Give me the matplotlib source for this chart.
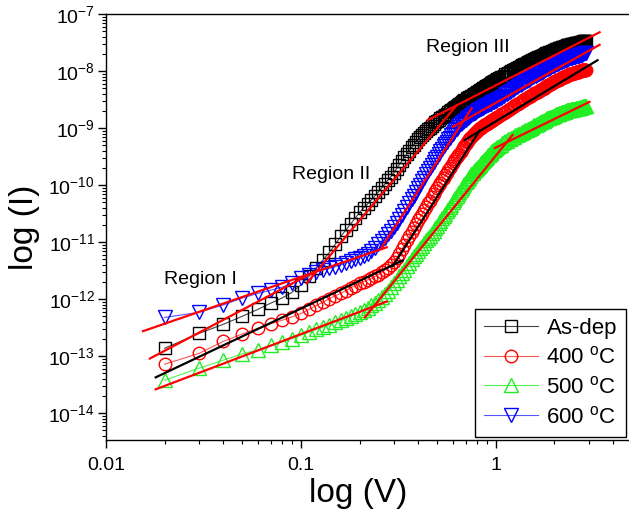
import numpy as np
import matplotlib
matplotlib.use("Agg")
import matplotlib.pyplot as plt
from matplotlib.ticker import FixedLocator, FuncFormatter, NullFormatter, LogFormatterSciNotation

plt.rcParams['font.family'] = ['Liberation Sans', 'DejaVu Sans']
plt.rcParams['mathtext.default'] = 'regular'

# applied voltage (V)
voltage = [0.02, 0.03, 0.04, 0.05, 0.06, 0.07, 0.08, 0.09, 0.10, 0.11,
           0.12, 0.13, 0.14, 0.15, 0.16, 0.17, 0.18, 0.19, 0.20,
           0.21, 0.22, 0.23, 0.24, 0.25, 0.26, 0.27, 0.28, 0.29, 0.30,
           0.31, 0.32, 0.33, 0.34, 0.35, 0.36, 0.37, 0.38, 0.39, 0.40,
           0.41, 0.42, 0.43, 0.44, 0.45, 0.46, 0.47, 0.48, 0.49, 0.50,
           0.51, 0.52, 0.53, 0.54, 0.55, 0.56, 0.57, 0.58, 0.59, 0.60,
           0.61, 0.62, 0.63, 0.64, 0.65, 0.66, 0.67, 0.68, 0.69, 0.70,
           0.71, 0.72, 0.73, 0.74, 0.75, 0.76, 0.77, 0.78, 0.79, 0.80,
           0.81, 0.82, 0.83, 0.84, 0.85, 0.86, 0.87, 0.88, 0.89, 0.90,
           0.91, 0.92, 0.93, 0.94, 0.95, 0.96, 0.97, 0.98, 0.99, 1.00,
           1.02, 1.04, 1.06, 1.08, 1.10, 1.12, 1.14, 1.16, 1.18, 1.20,
           1.22, 1.24, 1.26, 1.28, 1.30, 1.32, 1.34, 1.36, 1.38, 1.40,
           1.42, 1.44, 1.46, 1.48, 1.50, 1.52, 1.54, 1.56, 1.58, 1.60,
           1.62, 1.64, 1.66, 1.68, 1.70, 1.72, 1.74, 1.76, 1.78, 1.80,
           1.82, 1.84, 1.86, 1.88, 1.90, 1.92, 1.94, 1.96, 1.98, 2.00,
           2.02, 2.04, 2.06, 2.08, 2.10, 2.12, 2.14, 2.16, 2.18, 2.20,
           2.22, 2.24, 2.26, 2.28, 2.30, 2.32, 2.34, 2.36, 2.38, 2.40,
           2.42, 2.44, 2.46, 2.48, 2.50, 2.52, 2.54, 2.56, 2.58, 2.60,
           2.62, 2.64, 2.66, 2.68, 2.70, 2.72, 2.74, 2.76, 2.78, 2.80,
           2.82, 2.84, 2.86, 2.88, 2.90]

# log10 of current (A)
logI_asdep = [-12.86, -12.60, -12.44, -12.30, -12.18, -12.07, -11.98, -11.88, -11.75, -11.60,
              -11.45, -11.31, -11.18, -11.04, -10.90, -10.79, -10.68, -10.58, -10.48,
              -10.40, -10.33, -10.26, -10.19, -10.12, -10.05, -9.98, -9.91, -9.85, -9.78,
              -9.71, -9.64, -9.57, -9.51, -9.45, -9.40, -9.34, -9.29, -9.24, -9.20,
              -9.16, -9.12, -9.08, -9.05, -9.02, -8.99, -8.96, -8.93, -8.90, -8.88,
              -8.85, -8.83, -8.81, -8.79, -8.77, -8.75, -8.72, -8.70, -8.68, -8.66,
              -8.64, -8.63, -8.61, -8.60, -8.58, -8.56, -8.54, -8.53, -8.51, -8.50,
              -8.48, -8.47, -8.46, -8.45, -8.43, -8.42, -8.41, -8.40, -8.38, -8.37,
              -8.36, -8.35, -8.34, -8.33, -8.31, -8.30, -8.29, -8.28, -8.27, -8.26,
              -8.25, -8.24, -8.23, -8.22, -8.21, -8.20, -8.19, -8.18, -8.17, -8.16,
              -8.14, -8.13, -8.11, -8.10, -8.08, -8.06, -8.05, -8.03, -8.02, -8.00,
              -7.99, -7.98, -7.96, -7.95, -7.94, -7.93, -7.92, -7.90, -7.89, -7.88,
              -7.87, -7.86, -7.85, -7.84, -7.83, -7.82, -7.81, -7.80, -7.79, -7.78,
              -7.77, -7.76, -7.76, -7.75, -7.74, -7.73, -7.72, -7.72, -7.71, -7.70,
              -7.69, -7.68, -7.68, -7.67, -7.66, -7.66, -7.65, -7.64, -7.64, -7.63,
              -7.63, -7.62, -7.61, -7.61, -7.60, -7.60, -7.59, -7.59, -7.58, -7.58,
              -7.57, -7.57, -7.57, -7.56, -7.56, -7.55, -7.55, -7.55, -7.54, -7.54,
              -7.54, -7.53, -7.53, -7.52, -7.52, -7.52, -7.52, -7.51, -7.51, -7.51,
              -7.50, -7.50, -7.50, -7.50, -7.50, -7.49, -7.49, -7.49, -7.49, -7.49,
              -7.48, -7.48, -7.48, -7.48, -7.48]
logI_400 = [-13.14, -12.95, -12.74, -12.61, -12.51, -12.43, -12.37, -12.31, -12.25, -12.18,
            -12.11, -12.05, -11.99, -11.94, -11.90, -11.85, -11.80, -11.76, -11.72,
            -11.69, -11.66, -11.63, -11.60, -11.57, -11.53, -11.49, -11.45, -11.40, -11.35,
            -11.28, -11.20, -11.12, -11.05, -10.97, -10.90, -10.83, -10.76, -10.69, -10.62,
            -10.56, -10.50, -10.44, -10.38, -10.32, -10.27, -10.21, -10.16, -10.10, -10.05,
            -10.00, -9.96, -9.91, -9.87, -9.82, -9.78, -9.74, -9.70, -9.66, -9.62,
            -9.58, -9.55, -9.51, -9.48, -9.45, -9.42, -9.38, -9.35, -9.31, -9.28,
            -9.25, -9.23, -9.20, -9.18, -9.15, -9.13, -9.11, -9.09, -9.07, -9.05,
            -9.03, -9.02, -9.00, -8.99, -8.98, -8.97, -8.95, -8.94, -8.93, -8.92,
            -8.91, -8.90, -8.89, -8.88, -8.87, -8.86, -8.85, -8.84, -8.83, -8.82,
            -8.80, -8.78, -8.76, -8.75, -8.73, -8.71, -8.70, -8.68, -8.66, -8.65,
            -8.63, -8.61, -8.60, -8.58, -8.57, -8.56, -8.54, -8.53, -8.51, -8.50,
            -8.49, -8.48, -8.46, -8.45, -8.44, -8.43, -8.42, -8.40, -8.39, -8.38,
            -8.37, -8.36, -8.35, -8.34, -8.33, -8.32, -8.31, -8.30, -8.29, -8.28,
            -8.27, -8.26, -8.25, -8.24, -8.23, -8.22, -8.21, -8.20, -8.20, -8.19,
            -8.18, -8.17, -8.16, -8.16, -8.15, -8.14, -8.14, -8.13, -8.12, -8.12,
            -8.11, -8.10, -8.10, -8.09, -8.09, -8.08, -8.07, -8.07, -8.06, -8.06,
            -8.05, -8.05, -8.05, -8.04, -8.04, -8.03, -8.03, -8.03, -8.02, -8.02,
            -8.01, -8.01, -8.01, -8.00, -8.00, -8.00, -8.00, -7.99, -7.99, -7.99,
            -7.99, -7.98, -7.98, -7.98, -7.98]
logI_500 = [-13.42, -13.21, -13.07, -12.96, -12.89, -12.81, -12.75, -12.69, -12.63, -12.58,
            -12.53, -12.49, -12.45, -12.40, -12.37, -12.33, -12.30, -12.26, -12.23,
            -12.19, -12.15, -12.11, -12.07, -12.02, -11.97, -11.91, -11.85, -11.79, -11.72,
            -11.66, -11.60, -11.54, -11.48, -11.42, -11.36, -11.30, -11.25, -11.20, -11.15,
            -11.10, -11.06, -11.01, -10.97, -10.93, -10.89, -10.84, -10.80, -10.76, -10.72,
            -10.67, -10.63, -10.58, -10.54, -10.50, -10.46, -10.42, -10.38, -10.34, -10.30,
            -10.26, -10.23, -10.19, -10.16, -10.12, -10.09, -10.05, -10.02, -9.98, -9.95,
            -9.92, -9.90, -9.87, -9.84, -9.81, -9.79, -9.76, -9.74, -9.72, -9.70,
            -9.68, -9.66, -9.64, -9.62, -9.60, -9.58, -9.56, -9.54, -9.52, -9.50,
            -9.48, -9.47, -9.45, -9.44, -9.42, -9.41, -9.39, -9.38, -9.36, -9.35,
            -9.33, -9.31, -9.29, -9.27, -9.25, -9.23, -9.22, -9.20, -9.19, -9.18,
            -9.16, -9.15, -9.13, -9.12, -9.11, -9.10, -9.09, -9.07, -9.06, -9.05,
            -9.04, -9.03, -9.02, -9.01, -9.00, -8.99, -8.98, -8.97, -8.95, -8.94,
            -8.93, -8.92, -8.91, -8.90, -8.89, -8.88, -8.87, -8.87, -8.86, -8.85,
            -8.84, -8.83, -8.83, -8.82, -8.81, -8.80, -8.80, -8.79, -8.78, -8.78,
            -8.77, -8.76, -8.76, -8.75, -8.75, -8.74, -8.73, -8.73, -8.72, -8.72,
            -8.71, -8.71, -8.71, -8.70, -8.70, -8.69, -8.69, -8.69, -8.68, -8.68,
            -8.68, -8.67, -8.67, -8.66, -8.66, -8.66, -8.66, -8.66, -8.65, -8.65,
            -8.65, -8.64, -8.64, -8.64, -8.64, -8.63, -8.63, -8.63, -8.63, -8.63,
            -8.62, -8.62, -8.62, -8.62, -8.62]
logI_600 = [-12.32, -12.23, -12.10, -11.98, -11.90, -11.84, -11.79, -11.72, -11.63, -11.57,
            -11.52, -11.49, -11.46, -11.43, -11.40, -11.36, -11.33, -11.30, -11.27,
            -11.24, -11.20, -11.15, -11.10, -11.04, -10.98, -10.92, -10.86, -10.80, -10.73,
            -10.66, -10.59, -10.52, -10.46, -10.39, -10.32, -10.25, -10.19, -10.12, -10.05,
            -9.99, -9.93, -9.87, -9.81, -9.75, -9.70, -9.65, -9.60, -9.55, -9.50,
            -9.45, -9.41, -9.36, -9.32, -9.28, -9.24, -9.20, -9.17, -9.13, -9.10,
            -9.07, -9.04, -9.01, -8.98, -8.95, -8.93, -8.91, -8.89, -8.87, -8.85,
            -8.83, -8.82, -8.80, -8.79, -8.77, -8.76, -8.74, -8.73, -8.71, -8.70,
            -8.69, -8.68, -8.67, -8.66, -8.65, -8.64, -8.63, -8.62, -8.61, -8.60,
            -8.59, -8.58, -8.58, -8.57, -8.56, -8.55, -8.55, -8.54, -8.53, -8.52,
            -8.50, -8.49, -8.47, -8.45, -8.43, -8.41, -8.40, -8.38, -8.36, -8.35,
            -8.33, -8.31, -8.30, -8.28, -8.27, -8.25, -8.24, -8.23, -8.21, -8.20,
            -8.19, -8.17, -8.16, -8.15, -8.14, -8.13, -8.11, -8.10, -8.09, -8.08,
            -8.07, -8.06, -8.05, -8.04, -8.03, -8.02, -8.01, -8.00, -7.99, -7.98,
            -7.97, -7.96, -7.96, -7.95, -7.94, -7.93, -7.92, -7.92, -7.91, -7.90,
            -7.89, -7.88, -7.88, -7.87, -7.86, -7.86, -7.85, -7.84, -7.84, -7.83,
            -7.82, -7.82, -7.81, -7.81, -7.80, -7.80, -7.79, -7.79, -7.78, -7.78,
            -7.78, -7.77, -7.77, -7.76, -7.76, -7.76, -7.75, -7.75, -7.74, -7.74,
            -7.74, -7.73, -7.73, -7.72, -7.72, -7.72, -7.71, -7.71, -7.70, -7.70,
            -7.70, -7.69, -7.69, -7.68, -7.68]

labels = ['As-dep', '400 $^{o}$C', '500 $^{o}$C', '600 $^{o}$C']

# linear fits (V start, V end) and (log I start, log I end)
red_fit_v = [(0.0155, 0.276), (0.0168, 0.122), (0.018, 0.276),
             (0.107, 0.63), (0.26, 0.753), (0.213, 1.22),
             (0.448, 3.41), (0.601, 3.41), (0.99, 3.03)]
red_fit_logI = [(-12.56, -11.09), (-13.04, -11.49), (-13.58, -12.04),
                (-11.72, -8.60), (-11.09, -8.65), (-12.32, -9.12),
                (-8.86, -7.32), (-8.98, -7.54), (-9.35, -8.54)]
black_fit_v = [(0.018, 0.333), (0.296, 0.828), (0.693, 3.33)]
black_fit_logI = [(-13.37, -11.32), (-11.42, -9.04), (-9.21, -7.81)]

region_text = ['Region I', 'Region II', 'Region III']
region_v = [0.0307, 0.1425, 0.718]
region_logI = [-11.65, -9.82, -7.58]

x_major = [0.01, 0.1, 1]
y_major = [1e-14, 1e-13, 1e-12, 1e-11, 1e-10, 1e-9, 1e-8, 1e-7]

fig = plt.figure(figsize=(6.29, 5.13), dpi=100)
ax = fig.add_axes([0.1685, 0.1423, 0.8362, 0.8304])

V = np.array(voltage)
series = [
    (logI_asdep, 's', 'black', '#444444', 8),
    (logI_400, 'o', '#ff0000', '#ff5555', 9),
    (logI_500, '^', '#22ee22', '#55ee55', 10),
    (logI_600, 'v', '#0000ff', '#5555ff', 10),
]
for (logI, mk, ec, lc, ms), lab in zip(series, labels):
    ax.plot(V, 10.0 ** np.array(logI), color=lc, lw=0.8, marker=mk, ms=ms,
            mfc='none', mec=ec, mew=1.0, label=lab)

for (v0, v1), (i0, i1) in zip(red_fit_v, red_fit_logI):
    ax.plot([v0, v1], [10.0 ** i0, 10.0 ** i1], color='red', lw=1.6, zorder=5)
for (v0, v1), (i0, i1) in zip(black_fit_v, black_fit_logI):
    ax.plot([v0, v1], [10.0 ** i0, 10.0 ** i1], color='black', lw=1.6, zorder=5)

for t, v, li in zip(region_text, region_v, region_logI):
    ax.text(v, 10.0 ** li, t, fontsize=14, ha='center', va='center')

ax.set_xscale('log')
ax.set_yscale('log')
ax.set_xlim(0.01, 5)
ax.set_ylim(3.4e-15, 1e-7)

# only ticks inside the visible range
x_minor = [m * d for d in [0.01, 0.1, 1] for m in range(2, 10) if m * d <= 5]
y_minor = [m * d for d in [1e-15, 1e-14, 1e-13, 1e-12, 1e-11, 1e-10, 1e-9, 1e-8]
           for m in range(2, 10) if 3.4e-15 <= m * d <= 1e-7]
ax.xaxis.set_major_locator(FixedLocator(x_major))
ax.xaxis.set_minor_locator(FixedLocator(x_minor))
ax.xaxis.set_major_formatter(FuncFormatter(lambda v, _: f'{v:g}'))
ax.xaxis.set_minor_formatter(NullFormatter())
ax.yaxis.set_major_locator(FixedLocator(y_major))
ax.yaxis.set_minor_locator(FixedLocator(y_minor))
ax.yaxis.set_major_formatter(LogFormatterSciNotation())
ax.yaxis.set_minor_formatter(NullFormatter())

ax.tick_params(axis='both', which='major', direction='out', length=6, width=1,
               labelsize=14, top=False, right=False)
ax.tick_params(axis='both', which='minor', direction='out', length=3, width=0.8,
               top=False, right=False)
ax.tick_params(axis='x', which='major', pad=6)
ax.tick_params(axis='y', which='major', pad=2)
ax.spines['right'].set_visible(False)
for s in ['left', 'bottom', 'top']:
    ax.spines[s].set_linewidth(1.0)

ax.set_xlabel('log (V)', fontsize=24, va='center')
ax.xaxis.set_label_coords(0.479, -0.125)
ax.set_ylabel('log (I)', fontsize=24, va='center')
ax.yaxis.set_label_coords(-0.154, 0.5)

leg = ax.legend(loc='upper right', bbox_to_anchor=(0.995, 0.398), bbox_transform=fig.transFigure,
                borderaxespad=0, fontsize=16, frameon=True, fancybox=False,
                edgecolor='black', framealpha=1, handlelength=2.4, labelspacing=0.35,
                handletextpad=0.4, borderpad=0.4)
leg.get_frame().set_linewidth(1.0)

fig.savefig('out.png', dpi=100)
